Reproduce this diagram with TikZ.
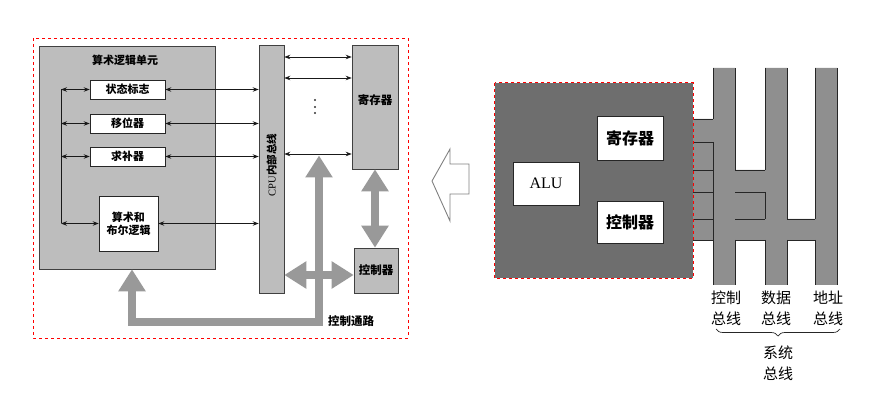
\documentclass[tikz,border=0pt]{standalone}
\usepackage{fontspec}
\setmainfont{Liberation Serif}
\newfontfamily\cjk{Noto Sans CJK SC}
\usetikzlibrary{arrows.meta,decorations.pathreplacing}

\definecolor{unitgray}{gray}{0.74}
\definecolor{fatgray}{gray}{0.6}
\definecolor{cpugray}{gray}{0.43}
\definecolor{busgray}{gray}{0.56}

\tikzset{
  frame/.style={draw=red, dashed, line width=0.9pt},
  unitbox/.style={draw=black!75, fill=unitgray, line width=0.6pt, inner sep=0pt},
  whitebox/.style={draw=black!85, fill=white, line width=0.6pt, inner sep=0pt,
    font=\cjk\bfseries\fontsize{11}{13}\selectfont},
  bigwhite/.style={draw=black!85, fill=white, line width=0.7pt, inner sep=0pt,
    font=\cjk\bfseries\fontsize{16}{18}\selectfont},
  thinarrow/.style={{Stealth[length=6pt,width=4.5pt]}-{Stealth[length=6pt,width=4.5pt]},
    line width=0.8pt, black!90},
  fatarrow/.style={draw=fatgray, line width=8pt, line join=miter,
    {Triangle[length=22pt,width=26pt]}-{Triangle[length=22pt,width=26pt]}},
  busline/.style={draw=black!85, line width=0.8pt},
  buslabel/.style={font=\cjk\fontsize{15}{21}\selectfont, align=center, inner sep=0pt},
}

\begin{document}
\begin{tikzpicture}[x=1pt,y=-1pt]
\useasboundingbox (0,0) rectangle (895,406);

% ---------- CPU internal structure ----------
\draw[frame] (33,38) rectangle (408,338);

\node[unitbox, minimum width=176pt, minimum height=223pt] (aluunit) at (127,157.5) {};
\node[font=\cjk\bfseries\fontsize{11}{13}\selectfont] (alutitle) at (125,60) {算术逻辑单元};

\node[whitebox, minimum width=75pt, minimum height=19pt] (flag)  at (127.5,89.5)  {状态标志};
\node[whitebox, minimum width=75pt, minimum height=19pt] (shift) at (127.5,123.5) {移位器};
\node[whitebox, minimum width=75pt, minimum height=19pt] (comp)  at (127.5,156.5) {求补器};
\node[whitebox, minimum width=59pt, minimum height=55pt, align=center] (logic) at (128.5,223.5)
  {算术和\\布尔逻辑};

\node[unitbox, minimum width=25pt, minimum height=248pt] (bus) at (271.5,169) {};
\node[rotate=90, font=\fontsize{10.5}{12}\selectfont] (buslabel) at (271.5,165)
  {CPU{\cjk\bfseries 内部总线}};

\node[unitbox, minimum width=46pt, minimum height=124pt] (reg) at (375,107) {};
\node[font=\cjk\bfseries\fontsize{11.5}{13}\selectfont] (regtext) at (375,100) {寄存器};
\node[unitbox, minimum width=44pt, minimum height=45pt,
      font=\cjk\bfseries\fontsize{11.5}{13}\selectfont] (ctrl) at (376,270.5) {控制器};

% internal links of the arithmetic unit
\coordinate (spinetop) at (61,89.5);
\coordinate (spinebot) at (61,223.5);
\draw[line width=0.8pt, black!90] (spinetop) -- (spinebot);
\foreach \n in {flag,shift,comp,logic}{
  \draw[thinarrow] (\n.west -| spinetop) -- (\n.west);
  \draw[thinarrow] (\n.east) -- (\n.east -| bus.west);
}

% bus to register file
\coordinate (r1) at (0,57);
\coordinate (r2) at (0,78);
\coordinate (r3) at (0,154);
\foreach \r in {r1,r2,r3}{
  \draw[thinarrow] (bus.east |- \r) -- (reg.west |- \r);
}
\foreach \y in {100,107,113}{
  \fill[black!80] (315,\y) circle (1.1pt);
}

% control paths
\draw[fatarrow] (reg.south) -- (reg.south |- ctrl.north);
\coordinate (cpmid) at (0,275);
\draw[fatarrow] (bus.east |- cpmid) -- (ctrl.west |- cpmid);
\coordinate (cptop) at (319,155.5);
\coordinate (cpcorner) at (132,322);
\draw[fatarrow] (cptop) |- (cpcorner) -- (cpcorner |- aluunit.south);
\node[font=\cjk\bfseries\fontsize{11.5}{13}\selectfont] (cptext) at (351,321) {控制通路};

% ---------- hollow pointer ----------
\draw[gray, line width=0.9pt, line join=miter]
  (432,181) -- (450,149) -- (450,164) -- (469,164) -- (469,194) -- (450,194) -- (450,221) -- cycle;

% ---------- CPU and system bus ----------
\fill[busgray]
  (713,68) rectangle (735,285)
  (765,68) rectangle (787,285)
  (815,68) rectangle (837,285)
  (693,119) rectangle (713,240)
  (735,170) rectangle (765,240)
  (787,219) rectangle (815,240);

\node[fill=cpugray, minimum width=198pt, minimum height=195pt, inner sep=0pt] (cpu) at (594,180.5) {};
\node[bigwhite, minimum width=66pt, minimum height=44pt] (reg2)  at (630,138)   {寄存器};
\node[bigwhite, minimum width=66pt, minimum height=43pt,
      font=\fontsize{16}{18}\selectfont] (alu2) at (546,183.5) {ALU};
\node[bigwhite, minimum width=66pt, minimum height=42pt] (ctrl2) at (630,222)   {控制器};

% bus outlines
\draw[busline] (713,68) -- (713,119) (713,142) -- (713,285);
\draw[busline] (735,68) -- (735,170) (735,240) -- (735,285);
\draw[busline] (765,68) -- (765,170) (765,192) -- (765,219) (765,240) -- (765,285);
\draw[busline] (787,68) -- (787,219) (787,240) -- (787,285);
\draw[busline] (815,68) -- (815,219) (815,240) -- (815,285);
\draw[busline] (837,68) -- (837,285);
\draw[busline] (693,119) -- (713,119) (693,142) -- (713,142);
\draw[busline] (693,170) -- (713,170) (735,170) -- (765,170);
\draw[busline] (693,192) -- (713,192) (735,192) -- (765,192);
\draw[busline] (693,219) -- (713,219) (735,219) -- (765,219) (787,219) -- (815,219);
\draw[busline] (693,240) -- (713,240) (735,240) -- (765,240) (787,240) -- (815,240);

% red dashed outline of the processor, on top of the bus joints
\draw[frame, line width=1.1pt] (cpu.north west) rectangle (cpu.south east);

\node[buslabel] (cbus) at (726,308) {控制\\总线};
\node[buslabel] (dbus) at (776,308) {数据\\总线};
\node[buslabel] (abus) at (828,308) {地址\\总线};
\coordinate (braceR) at (840,329);
\coordinate (braceL) at (716,329);
\draw[line width=0.7pt, black!85, decorate, decoration={brace, amplitude=7pt}] (braceR) -- (braceL);
\node[buslabel] (sbus) at (778,363) {系统\\总线};
\end{tikzpicture}
\end{document}
